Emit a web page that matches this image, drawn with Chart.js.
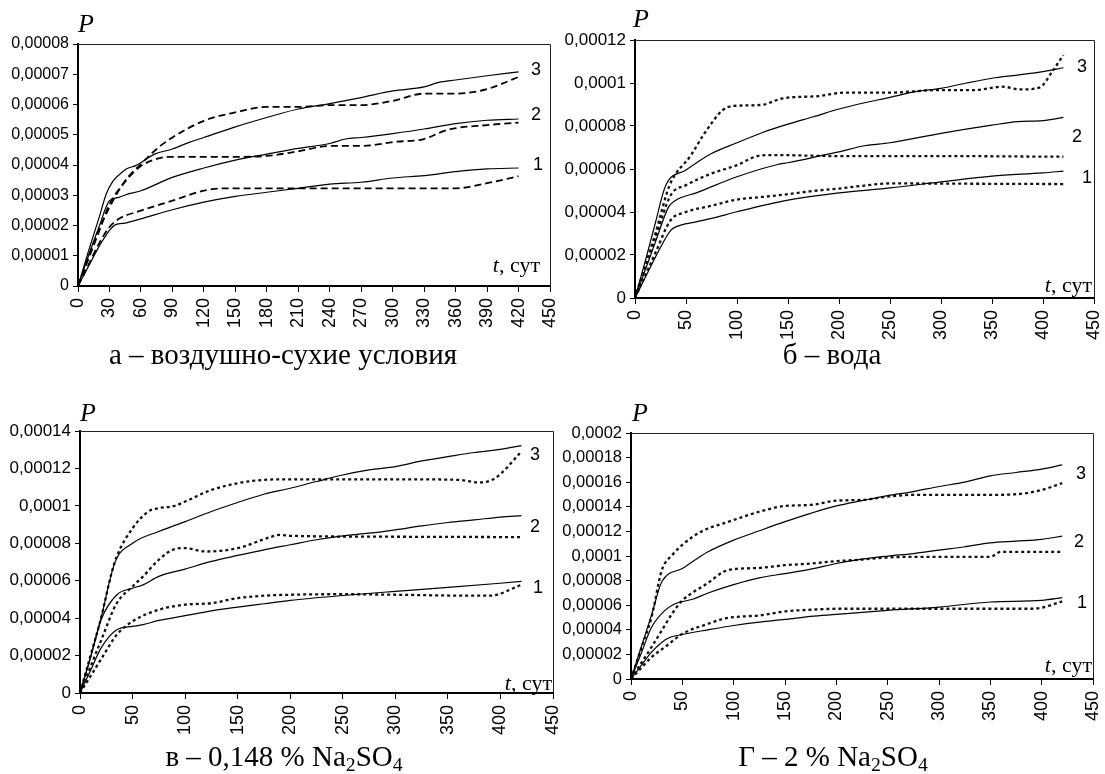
<!DOCTYPE html>
<html><head><meta charset="utf-8">
<script src="https://cdn.jsdelivr.net/npm/chart.js@4.4.1/dist/chart.umd.min.js"></script>
<style>
html,body{margin:0;padding:0;background:#fff;}
#page{position:relative;width:1105px;height:774px;overflow:hidden;background:#fff;}
canvas{position:absolute;}
.t{position:absolute;white-space:nowrap;line-height:1;color:#000;}
.sub{font-size:0.68em;position:relative;top:0.28em;line-height:0;}
</style></head>
<body><div id="page"></div>
<script>
// ---------- tick labels ----------
const xTicksA = [0,30,60,90,120,150,180,210,240,270,300,330,360,390,420,450];
const xTicks50 = [0,50,100,150,200,250,300,350,400,450];
const yTicksA = [0,0.00001,0.00002,0.00003,0.00004,0.00005,0.00006,0.00007,0.00008];
const yTicksB = [0,0.00002,0.00004,0.00006,0.00008,0.0001,0.00012];
const yTicksC = [0,0.00002,0.00004,0.00006,0.00008,0.0001,0.00012,0.00014];
const yTicksD = [0,0.00002,0.00004,0.00006,0.00008,0.0001,0.00012,0.00014,0.00016,0.00018,0.0002];

// ---------- panel а (air-dry): solid and dashed ----------
const a3sDays = [0,10,20,27,33,40,46,55,73,90,106,120,150,180,210,240,270,300,330,344,360,390,420];
const a3sVals = [0,1.15e-5,2.25e-5,3.05e-5,3.45e-5,3.7e-5,3.87e-5,3.98e-5,4.36e-5,4.53e-5,4.75e-5,4.91e-5,5.26e-5,5.57e-5,5.85e-5,6.03e-5,6.23e-5,6.45e-5,6.58e-5,6.73e-5,6.81e-5,6.95e-5,7.08e-5];
const a3dDays = [0,10,20,30,45,60,75,90,120,150,180,210,240,270,300,330,360,390,420];
const a3dVals = [0,0.95e-5,1.85e-5,2.6e-5,3.48e-5,4.03e-5,4.53e-5,4.91e-5,5.46e-5,5.74e-5,5.92e-5,5.92e-5,5.98e-5,5.98e-5,6.12e-5,6.36e-5,6.36e-5,6.51e-5,6.91e-5];
const a2sDays = [0,10,20,30,39,45,60,90,120,150,180,210,240,255,270,300,330,360,390,420];
const a2sVals = [0,1.0e-5,1.95e-5,2.82e-5,2.93e-5,3.01e-5,3.15e-5,3.59e-5,3.9e-5,4.16e-5,4.36e-5,4.55e-5,4.71e-5,4.86e-5,4.91e-5,5.04e-5,5.19e-5,5.37e-5,5.48e-5,5.52e-5];
const a2dDays = [0,10,20,30,45,59,75,87,120,150,180,208,240,269,304,329,352,390,420];
const a2dVals = [0,0.9e-5,1.8e-5,2.7e-5,3.45e-5,3.94e-5,4.2e-5,4.27e-5,4.27e-5,4.27e-5,4.3e-5,4.44e-5,4.63e-5,4.63e-5,4.77e-5,4.85e-5,5.16e-5,5.32e-5,5.4e-5];
const a1sDays = [0,10,20,30,36,45,60,90,120,150,180,210,240,270,300,330,360,390,420];
const a1sVals = [0,0.65e-5,1.3e-5,1.84e-5,2.03e-5,2.08e-5,2.22e-5,2.52e-5,2.77e-5,2.96e-5,3.1e-5,3.23e-5,3.37e-5,3.43e-5,3.57e-5,3.65e-5,3.78e-5,3.87e-5,3.9e-5];
const a1dDays = [0,10,20,30,39,60,90,120,140,180,240,300,360,390,420];
const a1dVals = [0,0.7e-5,1.4e-5,1.95e-5,2.22e-5,2.49e-5,2.82e-5,3.15e-5,3.23e-5,3.23e-5,3.23e-5,3.23e-5,3.23e-5,3.4e-5,3.63e-5];

// ---------- panel б (water) ----------
const b3sDays = [0,10,20,30,50,75,100,125,150,175,200,225,250,275,300,325,350,375,400,420];
const b3sVals = [0,1.7e-5,3.5e-5,5.22e-5,5.95e-5,6.72e-5,7.22e-5,7.7e-5,8.09e-5,8.43e-5,8.79e-5,9.08e-5,9.33e-5,9.6e-5,9.75e-5,10.0e-5,10.22e-5,10.37e-5,10.53e-5,10.71e-5];
const b3dDays = [0,10,20,34,55,68,86,96,124,145,180,204,249,298,333,360,378,397,409,420];
const b3dVals = [0,1.5e-5,3.0e-5,5.25e-5,6.65e-5,7.65e-5,8.74e-5,8.93e-5,8.98e-5,9.29e-5,9.39e-5,9.55e-5,9.55e-5,9.67e-5,9.67e-5,9.83e-5,9.7e-5,9.8e-5,10.53e-5,11.3e-5];
const b2sDays = [0,10,20,33,40,60,100,140,150,200,225,250,300,350,375,400,420];
const b2sVals = [0,1.3e-5,2.6e-5,4.24e-5,4.55e-5,4.89e-5,5.64e-5,6.21e-5,6.29e-5,6.8e-5,7.08e-5,7.22e-5,7.66e-5,8.04e-5,8.2e-5,8.25e-5,8.4e-5];
const b2dDays = [0,10,20,35,50,75,100,120,135,200,300,420];
const b2dVals = [0,1.4e-5,2.8e-5,4.78e-5,5.25e-5,5.79e-5,6.18e-5,6.6e-5,6.65e-5,6.6e-5,6.6e-5,6.57e-5];
const b1sDays = [0,10,20,35,40,60,75,100,150,200,250,300,350,400,420];
const b1sVals = [0,0.95e-5,1.9e-5,3.15e-5,3.31e-5,3.54e-5,3.7e-5,4.01e-5,4.55e-5,4.89e-5,5.12e-5,5.4e-5,5.67e-5,5.82e-5,5.9e-5];
const b1dDays = [0,10,20,35,50,75,100,125,150,175,200,225,250,300,420];
const b1dVals = [0,1.05e-5,2.1e-5,3.62e-5,4.0e-5,4.29e-5,4.58e-5,4.7e-5,4.83e-5,4.98e-5,5.09e-5,5.23e-5,5.33e-5,5.32e-5,5.3e-5];

// ---------- panel в (0.148 % Na2SO4) ----------
const c3sDays = [0,10,20,33,50,75,100,125,150,175,200,225,250,275,300,325,350,375,400,420];
const c3sVals = [0,1.9e-5,4.0e-5,6.94e-5,8.0e-5,8.63e-5,9.16e-5,9.7e-5,10.18e-5,10.62e-5,10.94e-5,11.3e-5,11.65e-5,11.92e-5,12.1e-5,12.4e-5,12.63e-5,12.85e-5,13.02e-5,13.22e-5];
const c3dDays = [0,10,20,30,35,50,65,75,90,100,125,150,175,200,250,300,360,380,395,420];
const c3dVals = [0,2.0e-5,4.0e-5,6.4e-5,7.3e-5,8.8e-5,9.7e-5,9.88e-5,10.0e-5,10.23e-5,10.85e-5,11.21e-5,11.39e-5,11.42e-5,11.42e-5,11.42e-5,11.39e-5,11.25e-5,11.48e-5,12.9e-5];
const c2sDays = [0,10,20,35,50,60,75,100,125,150,175,200,225,250,275,300,325,350,375,400,420];
const c2sVals = [0,1.9e-5,3.9e-5,5.25e-5,5.6e-5,5.78e-5,6.23e-5,6.62e-5,7.03e-5,7.35e-5,7.65e-5,7.92e-5,8.19e-5,8.4e-5,8.54e-5,8.72e-5,8.93e-5,9.11e-5,9.25e-5,9.4e-5,9.48e-5];
const c2dDays = [0,10,20,35,50,60,75,90,100,120,150,180,190,200,300,420];
const c2dVals = [0,1.4e-5,2.8e-5,4.8e-5,5.69e-5,6.23e-5,7.12e-5,7.69e-5,7.74e-5,7.56e-5,7.74e-5,8.31e-5,8.45e-5,8.4e-5,8.35e-5,8.33e-5];
const c1sDays = [0,10,20,35,50,60,75,100,125,150,175,200,250,300,350,420];
const c1sVals = [0,1.2e-5,2.4e-5,3.38e-5,3.56e-5,3.65e-5,3.88e-5,4.13e-5,4.39e-5,4.59e-5,4.77e-5,4.95e-5,5.21e-5,5.43e-5,5.64e-5,5.96e-5];
const c1dDays = [0,10,20,35,50,75,100,125,150,175,200,250,300,375,390,420];
const c1dVals = [0,0.9e-5,1.8e-5,3.11e-5,3.83e-5,4.45e-5,4.72e-5,4.8e-5,5.07e-5,5.2e-5,5.25e-5,5.28e-5,5.25e-5,5.2e-5,5.2e-5,5.78e-5];

// ---------- panel г (2 % Na2SO4) ----------
const d3sDays = [0,10,20,30,50,75,100,125,150,175,200,225,250,275,300,325,350,375,400,420];
const d3sVals = [0,2.6e-5,5.2e-5,7.9e-5,8.98e-5,10.34e-5,11.29e-5,12.05e-5,12.79e-5,13.47e-5,14.07e-5,14.5e-5,14.91e-5,15.24e-5,15.65e-5,16.0e-5,16.52e-5,16.79e-5,17.06e-5,17.41e-5];
const d3dDays = [0,10,20,30,40,60,75,90,100,125,150,175,200,225,250,275,350,375,400,420];
const d3dVals = [0,2.5e-5,5.03e-5,8.84e-5,10.07e-5,11.56e-5,12.24e-5,12.65e-5,12.93e-5,13.6e-5,14.07e-5,14.15e-5,14.5e-5,14.56e-5,14.83e-5,14.97e-5,14.97e-5,15.02e-5,15.37e-5,15.92e-5];
const d2sDays = [0,10,20,33,43,60,75,100,125,150,175,200,225,250,275,300,325,350,375,400,420];
const d2sVals = [0,2.1e-5,4.2e-5,5.58e-5,6.12e-5,6.48e-5,6.99e-5,7.67e-5,8.22e-5,8.57e-5,8.93e-5,9.39e-5,9.74e-5,9.99e-5,10.2e-5,10.48e-5,10.75e-5,11.07e-5,11.21e-5,11.35e-5,11.62e-5];
const d2dDays = [0,10,20,30,40,50,60,75,90,100,125,150,175,200,225,250,275,350,360,420];
const d2dVals = [0,1.3e-5,2.6e-5,3.95e-5,5.31e-5,6.39e-5,7.02e-5,7.81e-5,8.71e-5,8.93e-5,9.03e-5,9.25e-5,9.39e-5,9.58e-5,9.71e-5,9.88e-5,9.93e-5,9.93e-5,10.34e-5,10.34e-5];
const d1sDays = [0,10,20,35,50,75,100,125,150,175,200,250,300,350,400,420];
const d1sVals = [0,1.1e-5,2.18e-5,3.27e-5,3.62e-5,4.0e-5,4.35e-5,4.63e-5,4.84e-5,5.09e-5,5.25e-5,5.58e-5,5.85e-5,6.26e-5,6.39e-5,6.61e-5];
const d1dDays = [0,10,20,35,50,75,90,100,125,150,175,200,250,390,400,420];
const d1dVals = [0,0.9e-5,1.77e-5,2.72e-5,3.67e-5,4.49e-5,4.9e-5,5.03e-5,5.17e-5,5.5e-5,5.63e-5,5.71e-5,5.71e-5,5.71e-5,5.8e-5,6.31e-5];

// ---------- helpers ----------
const page = document.getElementById('page');
const SOLID = {borderColor:'#000', borderWidth:1.2, borderDash:[]};
const DASH  = {borderColor:'#000', borderWidth:1.8, borderDash:[7,4]};
const DOT   = {borderColor:'#111', borderWidth:2.3, borderDash:[3,3]};

function series(days, vals, style){
  return Object.assign({
    data: days.map((d,i)=>({x:d, y:vals[i]})),
    pointRadius:0, fill:false, cubicInterpolationMode:'monotone', tension:0.3
  }, style);
}
function fmtY(v){
  if (v === 0) return '0';
  return String(+v.toPrecision(6)).replace('.', ',');
}
const framePlugin = {
  id:'frame',
  afterDatasetsDraw(chart){
    const a = chart.chartArea, c = chart.ctx;
    c.save();
    c.strokeStyle = '#222'; c.lineWidth = 1;
    c.beginPath();
    c.moveTo(a.left, Math.round(a.top)+0.5);
    c.lineTo(Math.round(a.right)+0.5, Math.round(a.top)+0.5);
    c.lineTo(Math.round(a.right)+0.5, a.bottom);
    c.stroke();
    c.restore();
  }
};

function makePanel(cfg){
  const cv = document.createElement('canvas');
  cv.width = cfg.w; cv.height = cfg.h;
  cv.style.left = cfg.x0+'px'; cv.style.top = cfg.y0+'px';
  cv.style.width = cfg.w+'px'; cv.style.height = cfg.h+'px';
  page.appendChild(cv);
  const area = cfg.area;
  const yW = area.l - cfg.x0;
  const xH = cfg.y0 + cfg.h - area.b;
  new Chart(cv.getContext('2d'), {
    type:'line',
    data:{datasets: cfg.datasets},
    options:{
      responsive:false, animation:false, devicePixelRatio:1,
      layout:{padding:{left:0, top: area.t - cfg.y0, right: cfg.x0 + cfg.w - area.r, bottom:0}},
      plugins:{legend:{display:false}, tooltip:{enabled:false}},
      scales:{
        x:{
          type:'linear', min:0, max:450,
          afterBuildTicks(s){ s.ticks = cfg.xTicks.map(v=>({value:v})); },
          afterFit(s){ s.height = xH; s.paddingLeft=0; s.paddingRight=0; },
          border:{display:true, color:'#000', width:2},
          grid:{display:true, drawOnChartArea:false, drawTicks:true, tickLength:6, color:'#000', lineWidth:1},
          ticks:{autoSkip:false, minRotation:90, maxRotation:90, padding:6, color:'#000',
                 font:{family:'"Liberation Sans", Arial, sans-serif', size:cfg.xFont},
                 callback:(v)=>String(v)}
        },
        y:{
          type:'linear', min:0, max:cfg.yMax,
          afterBuildTicks(s){ s.ticks = cfg.yTicks.map(v=>({value:v})); },
          afterFit(s){ s.width = yW; s.paddingTop=0; s.paddingBottom=0; },
          border:{display:true, color:'#000', width:2},
          grid:{display:true, drawOnChartArea:false, drawTicks:true, tickLength:5, color:'#000', lineWidth:1},
          ticks:{autoSkip:false, padding:4, color:'#000',
                 font:{family:'"Liberation Sans", Arial, sans-serif', size:cfg.yFont},
                 callback:(v)=>fmtY(v)}
        }
      }
    },
    plugins:[framePlugin]
  });
}

function txt(html, x, baseline, o){
  const d = document.createElement('div');
  d.className = 't';
  const size = o.size;
  const serif = o.serif;
  const k = serif ? 0.8375 : 0.8465;
  d.style.fontFamily = serif ? '"Liberation Serif","Times New Roman",serif' : '"Liberation Sans",Arial,sans-serif';
  d.style.fontSize = size+'px';
  if (o.italic) d.style.fontStyle = 'italic';
  d.innerHTML = html;
  d.style.top = (baseline - k*size)+'px';
  d.style.left = x+'px';
  if (o.align === 'center') d.style.transform = 'translateX(-50%)';
  if (o.align === 'right') d.style.transform = 'translateX(-100%)';
  page.appendChild(d);
}

// ---------- panels ----------
makePanel({x0:0, y0:0, w:560, h:345, area:{l:78, t:44, r:550, b:286},
  xTicks:xTicksA, yTicks:yTicksA, yMax:0.00008, xFont:18, yFont:16,
  datasets:[series(a3sDays,a3sVals,SOLID), series(a3dDays,a3dVals,DASH),
            series(a2sDays,a2sVals,SOLID), series(a2dDays,a2dVals,DASH),
            series(a1sDays,a1sVals,SOLID), series(a1dDays,a1dVals,DASH)]});
makePanel({x0:553, y0:0, w:552, h:350, area:{l:635, t:40, r:1094, b:298},
  xTicks:xTicks50, yTicks:yTicksB, yMax:0.00012, xFont:18, yFont:17,
  datasets:[series(b3sDays,b3sVals,SOLID), series(b3dDays,b3dVals,DOT),
            series(b2sDays,b2sVals,SOLID), series(b2dDays,b2dVals,DOT),
            series(b1sDays,b1sVals,SOLID), series(b1dDays,b1dVals,DOT)]});
makePanel({x0:0, y0:390, w:560, h:360, area:{l:80, t:431, r:553, b:693},
  xTicks:xTicks50, yTicks:yTicksC, yMax:0.00014, xFont:18, yFont:17,
  datasets:[series(c3sDays,c3sVals,SOLID), series(c3dDays,c3dVals,DOT),
            series(c2sDays,c2sVals,SOLID), series(c2dDays,c2dVals,DOT),
            series(c1sDays,c1sVals,SOLID), series(c1dDays,c1dVals,DOT)]});
makePanel({x0:553, y0:390, w:552, h:360, area:{l:631, t:433, r:1093, b:679},
  xTicks:xTicks50, yTicks:yTicksD, yMax:0.0002, xFont:18, yFont:16.5,
  datasets:[series(d3sDays,d3sVals,SOLID), series(d3dDays,d3dVals,DOT),
            series(d2sDays,d2sVals,SOLID), series(d2dDays,d2dVals,DOT),
            series(d1sDays,d1sVals,SOLID), series(d1dDays,d1dVals,DOT)]});

// ---------- texts ----------
const S = {size:18, serif:false};
// panel а
txt('P', 78, 33, {size:26, serif:true, italic:true});
txt('<i>t</i>, сут', 540, 272, {size:22, serif:true, align:'right'});
txt('3', 531, 75, S); txt('2', 531, 120, S); txt('1', 533, 170, S);
txt('а – воздушно-сухие условия', 283, 364, {size:29, serif:true, align:'center'});
// panel б
txt('P', 633, 28, {size:26, serif:true, italic:true});
txt('<i>t</i>, сут', 1092, 292, {size:22, serif:true, align:'right'});
txt('3', 1077, 72, S); txt('2', 1072, 142, S); txt('1', 1082, 183, S);
txt('б – вода', 832, 364, {size:29, serif:true, align:'center'});
// panel в
txt('P', 80, 422, {size:26, serif:true, italic:true});
txt('<i>t</i>, сут', 552, 690, {size:22, serif:true, align:'right'});
txt('3', 530, 460, S); txt('2', 530, 532, S); txt('1', 533, 593, S);
txt('в – 0,148 % Na<span class="sub">2</span>SO<span class="sub">4</span>', 284, 766, {size:29, serif:true, align:'center'});
// panel г
txt('P', 632, 422, {size:26, serif:true, italic:true});
txt('<i>t</i>, сут', 1092, 672, {size:22, serif:true, align:'right'});
txt('3', 1076, 479, S); txt('2', 1074, 547, S); txt('1', 1077, 608, S);
txt('Г – 2 % Na<span class="sub">2</span>SO<span class="sub">4</span>', 833, 766, {size:29, serif:true, align:'center'});
</script>
</body></html>
